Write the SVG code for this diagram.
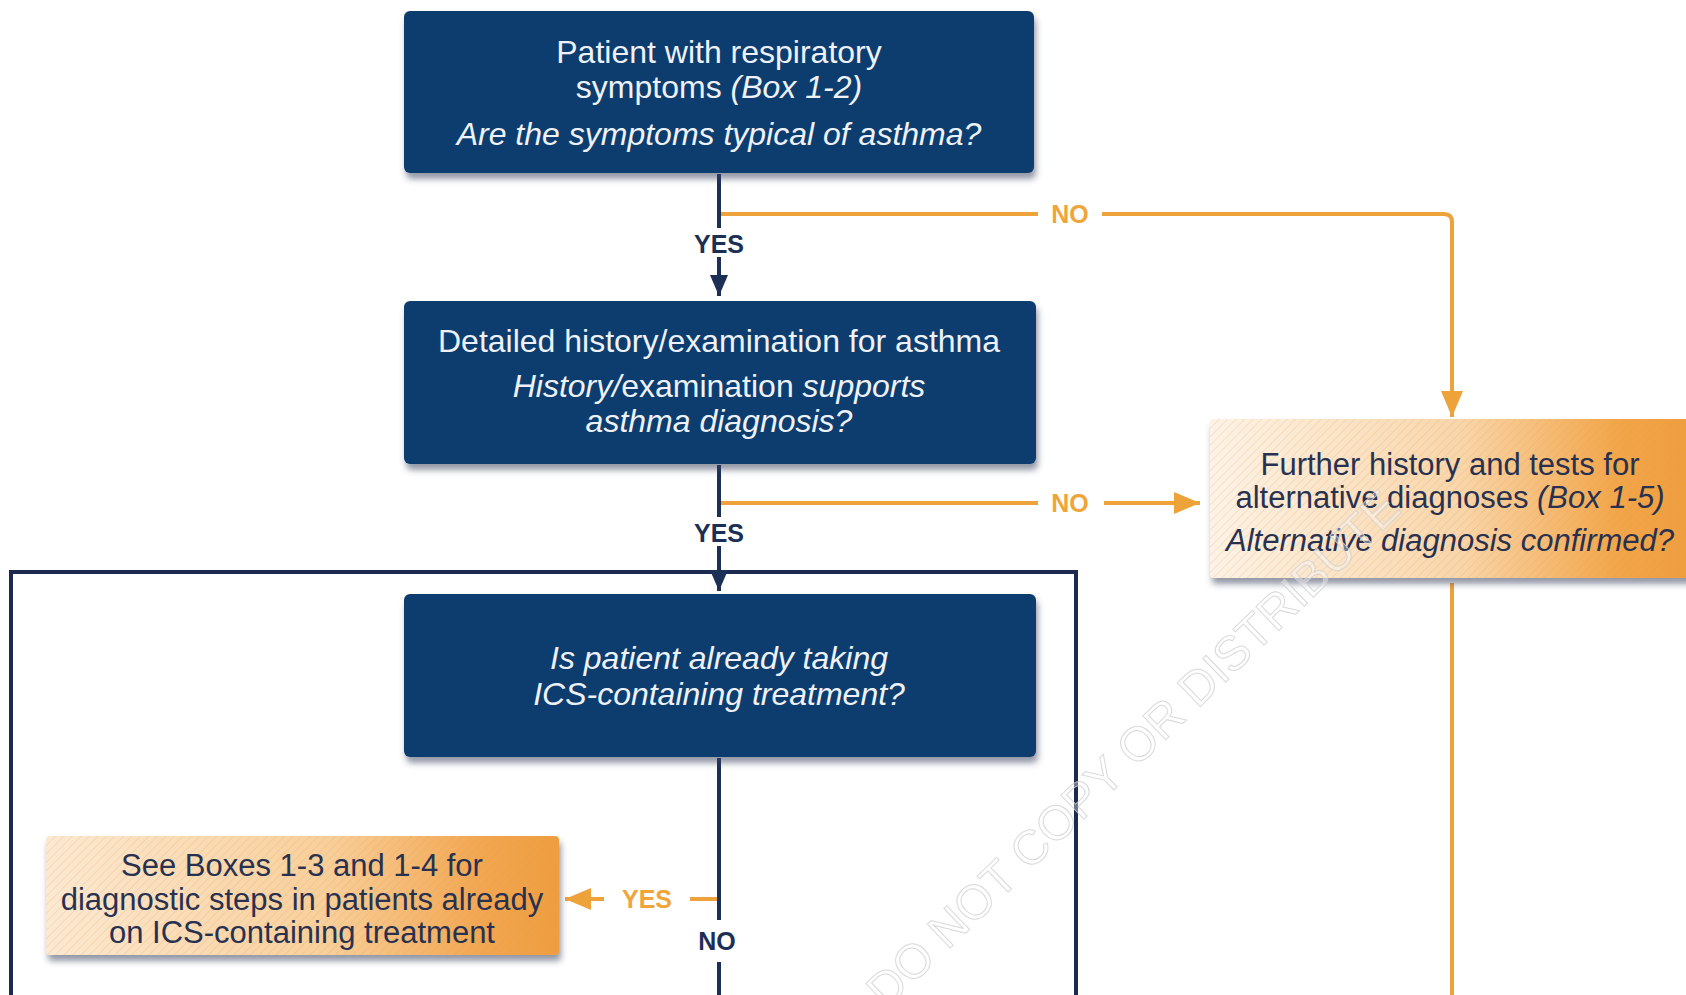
<svg xmlns="http://www.w3.org/2000/svg" width="1686" height="995" viewBox="0 0 1686 995">
<style>
.box{fill:#0f3c6e}
.t{font-family:"Liberation Sans",Arial,sans-serif;fill:#eef2f8;font-size:32px;text-anchor:middle}
.to{font-family:"Liberation Sans",Arial,sans-serif;fill:#283150;font-size:31px;text-anchor:middle}
.i{font-style:italic}
.nav{fill:none;stroke:#1c2f55;stroke-width:4}
.org{fill:none;stroke:#eea23a;stroke-width:4}
.lbn{font-family:"Liberation Sans",Arial,sans-serif;font-weight:bold;font-size:25px;fill:#1c2f55;text-anchor:middle}
.lbo{font-family:"Liberation Sans",Arial,sans-serif;font-weight:bold;font-size:25px;fill:#f0a53a;text-anchor:middle}
.wm{font-family:"Liberation Sans",Arial,sans-serif;font-size:48px;fill:#ffffff;fill-opacity:0.35;stroke:#cfcfcf;stroke-opacity:0.8;stroke-width:1}
</style>
<defs>
<filter id="sh" x="-5%" y="-10%" width="112%" height="130%">
<feDropShadow dx="2" dy="6" stdDeviation="3" flood-color="#3a4560" flood-opacity="0.55"/>
</filter>
<linearGradient id="g3" x1="0" y1="0" x2="1" y2="0">
<stop offset="0" stop-color="#fdf3e6"/>
<stop offset="0.5" stop-color="#f9d6aa"/>
<stop offset="0.82" stop-color="#f2a548"/>
<stop offset="1" stop-color="#ee9c3a"/>
</linearGradient>
<linearGradient id="g5" x1="0" y1="0" x2="1" y2="0">
<stop offset="0" stop-color="#fce9d2"/>
<stop offset="0.55" stop-color="#f8cf9a"/>
<stop offset="0.85" stop-color="#f2a650"/>
<stop offset="1" stop-color="#ef9e3e"/>
</linearGradient>
<pattern id="hatch" patternUnits="userSpaceOnUse" width="6" height="6" patternTransform="rotate(45)">
<line x1="0" y1="0" x2="0" y2="6" stroke="#d9985a" stroke-width="1" stroke-opacity="0.4"/>
</pattern>
<marker id="an" markerUnits="userSpaceOnUse" markerWidth="21" markerHeight="18" refX="21" refY="9" orient="auto">
<path d="M0,0 L21,9 L0,18 z" fill="#1c2f55"/>
</marker>
<marker id="ao" markerUnits="userSpaceOnUse" markerWidth="26" markerHeight="22" refX="26" refY="11" orient="auto">
<path d="M0,0 L26,11 L0,22 z" fill="#eea23a"/>
</marker>
</defs>
<rect width="1686" height="995" fill="#ffffff"/>

<g id="frame">
<rect x="11" y="572" width="1065" height="500" fill="none" stroke="#1b2a4e" stroke-width="4"/>
</g>

<g id="connectors">
<path class="nav" d="M719,174 V228"/>
<path class="nav" d="M719,257 V296" marker-end="url(#an)"/>
<path class="nav" d="M719,465 V517"/>
<path class="nav" d="M719,546 V591" marker-end="url(#an)"/>
<path class="nav" d="M719,758 V920"/>
<path class="nav" d="M719,962 V995"/>
<path class="org" d="M721,214 H1038"/>
<path class="org" d="M1102,214 H1444 Q1452,214 1452,222 V417" marker-end="url(#ao)"/>
<path class="org" d="M721,503 H1038"/>
<path class="org" d="M1104,503 H1200" marker-end="url(#ao)"/>
<path class="org" d="M1452,583 V995"/>
<path class="org" d="M717,899 H690"/>
<path class="org" d="M604,899 H565" marker-end="url(#ao)"/>
<text class="lbn" x="719" y="253">YES</text>
<text class="lbn" x="719" y="542">YES</text>
<text class="lbo" x="1070" y="223">NO</text>
<text class="lbo" x="1070" y="512">NO</text>
<text class="lbo" x="647" y="908" font-weight="normal">YES</text>
<text class="lbn" x="717" y="950">NO</text>
</g>

<g id="n1">
<rect class="box" x="404" y="11" width="630" height="162" rx="6" filter="url(#sh)"/>
<text class="t" x="719" y="63">Patient with respiratory</text>
<text class="t" x="719" y="98">symptoms <tspan class="i">(Box 1-2)</tspan></text>
<text class="t i" x="719" y="145">Are the symptoms typical of asthma?</text>
</g>

<g id="n2">
<rect class="box" x="404" y="301" width="632" height="163" rx="6" filter="url(#sh)"/>
<text class="t" x="719" y="352">Detailed history/examination for asthma</text>
<text class="t" x="719" y="397"><tspan class="i">History/</tspan>examination<tspan class="i"> supports</tspan></text>
<text class="t i" x="719" y="432">asthma diagnosis?</text>
</g>

<g id="n3">
<rect x="1210" y="419" width="500" height="159" rx="4" fill="url(#g3)" filter="url(#sh)"/>
<rect x="1210" y="419" width="500" height="159" rx="4" fill="url(#hatch)"/>
<text class="to" x="1450" y="475">Further history and tests for</text>
<text class="to" x="1450" y="508">alternative diagnoses <tspan class="i">(Box 1-5)</tspan></text>
<text class="to i" x="1450" y="551">Alternative diagnosis confirmed?</text>
</g>

<g id="n4">
<rect class="box" x="404" y="594" width="632" height="163" rx="6" filter="url(#sh)"/>
<text class="t i" x="719" y="669">Is patient already taking</text>
<text class="t i" x="719" y="705">ICS-containing treatment?</text>
</g>

<g id="n5">
<rect x="46" y="836" width="513" height="119" rx="4" fill="url(#g5)" filter="url(#sh)"/>
<rect x="46" y="836" width="513" height="119" rx="4" fill="url(#hatch)"/>
<text class="to" x="302" y="876">See Boxes 1-3 and 1-4 for</text>
<text class="to" x="302" y="910">diagnostic steps in patients already</text>
<text class="to" x="302" y="943">on ICS-containing treatment</text>
</g>

<text class="wm" transform="translate(886,1010) rotate(-44)">DO NOT COPY OR DISTRIBUTE</text>
</svg>
